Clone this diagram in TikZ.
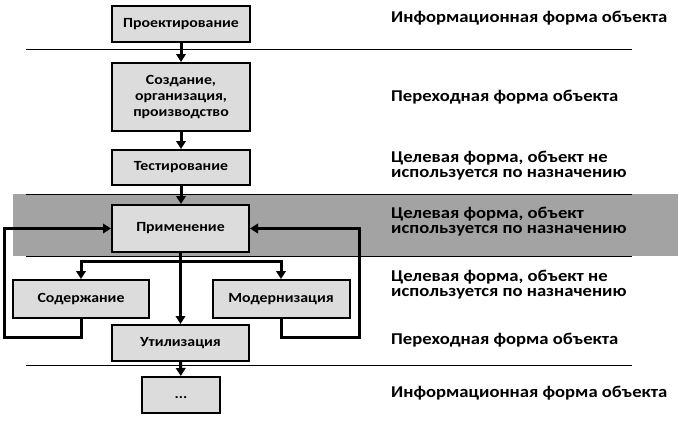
\documentclass[tikz,border=0pt]{standalone}
\usepackage{fontspec}
\setmainfont{Carlito}[FakeStretch=1.13]
\usetikzlibrary{arrows.meta}
\definecolor{boxgray}{HTML}{DCDCDC}
\definecolor{bandgray}{HTML}{A3A3A3}
\begin{document}
\begin{tikzpicture}[x=1pt,y=-1pt,
 stage/.style={draw=black,line width=2pt,fill=boxgray,font=\bfseries\fontsize{14}{16}\selectfont,inner sep=0pt,align=center},
 formlabel/.style={anchor=west,align=left,font=\bfseries\fontsize{16.5}{15}\selectfont,inner sep=0pt},
 flow/.style={line width=3pt,-{Triangle[length=8pt,width=9.5pt]}},
 sep/.style={line width=1pt}]
\useasboundingbox (0,0) rectangle (679,429);
% band
\fill[bandgray] (13,194) rectangle (678,256);
% separators
\coordinate (s1a) at (26,49); \coordinate (s1b) at (632,49);
\coordinate (s2a) at (26,194); \coordinate (s2b) at (632,194);
\coordinate (s3a) at (26,256); \coordinate (s3b) at (632,256);
\coordinate (s4a) at (26,365); \coordinate (s4b) at (632,365);
\draw[sep] (s1a) -- (s1b);
\draw[sep] (s2a) -- (s2b);
\draw[sep] (s3a) -- (s3b);
\draw[sep] (s4a) -- (s4b);
% stages
\node[stage,minimum width=138pt,minimum height=36pt] (proj) at (181,24) {Проектирование};
\node[stage,minimum width=138pt,minimum height=68pt] (sozd) at (181,97) {Создание,\\организация,\\производство};
\node[stage,minimum width=138pt,minimum height=35pt] (test) at (181,167.5) {Тестирование};
\node[stage,minimum width=137pt,minimum height=47pt] (prim) at (180.5,228.5) {Применение};
\node[stage,minimum width=136pt,minimum height=38pt] (sod) at (81,299) {Содержание};
\node[stage,minimum width=137pt,minimum height=38pt] (mod) at (281,299) {Модернизация};
\node[stage,minimum width=137pt,minimum height=36pt] (util) at (180.5,343) {Утилизация};
\node[stage,minimum width=78pt,minimum height=36pt] (dots) at (181,395) {\vphantom{Ap}...};
% flow
\draw[flow] (proj) -- (sozd);
\draw[flow] (sozd) -- (test);
\draw[flow] (test.south) -- (test.south |- prim.north);
\draw[flow] (prim.south) -- (util.north);
\draw[flow] (util) -- (dots);
\coordinate (br) at (180.5,261);
\draw[flow] (br) -| (sod.north);
\draw[flow] (br) -| (mod.north);
\coordinate (lb) at (4,337);
\coordinate (rb) at (359,337);
\draw[flow] (sod.south) |- (lb) |- (prim.west);
\draw[flow] (mod.south) |- (rb) |- (prim.east);
% labels
\node[formlabel] (l1) at (391,18) {Информационная форма объекта};
\node[formlabel] (l2) at (391,97) {Переходная форма объекта};
\node[formlabel] (l3) at (391,166) {Целевая форма, объект не\\используется по назначению};
\node[formlabel] (l4) at (391,222) {Целевая форма, объект\\используется по назначению};
\node[formlabel] (l5) at (391,285) {Целевая форма, объект не\\используется по назначению};
\node[formlabel] (l6) at (391,340) {Переходная форма объекта};
\node[formlabel] (l7) at (391,393) {Информационная форма объекта};
\end{tikzpicture}
\end{document}
